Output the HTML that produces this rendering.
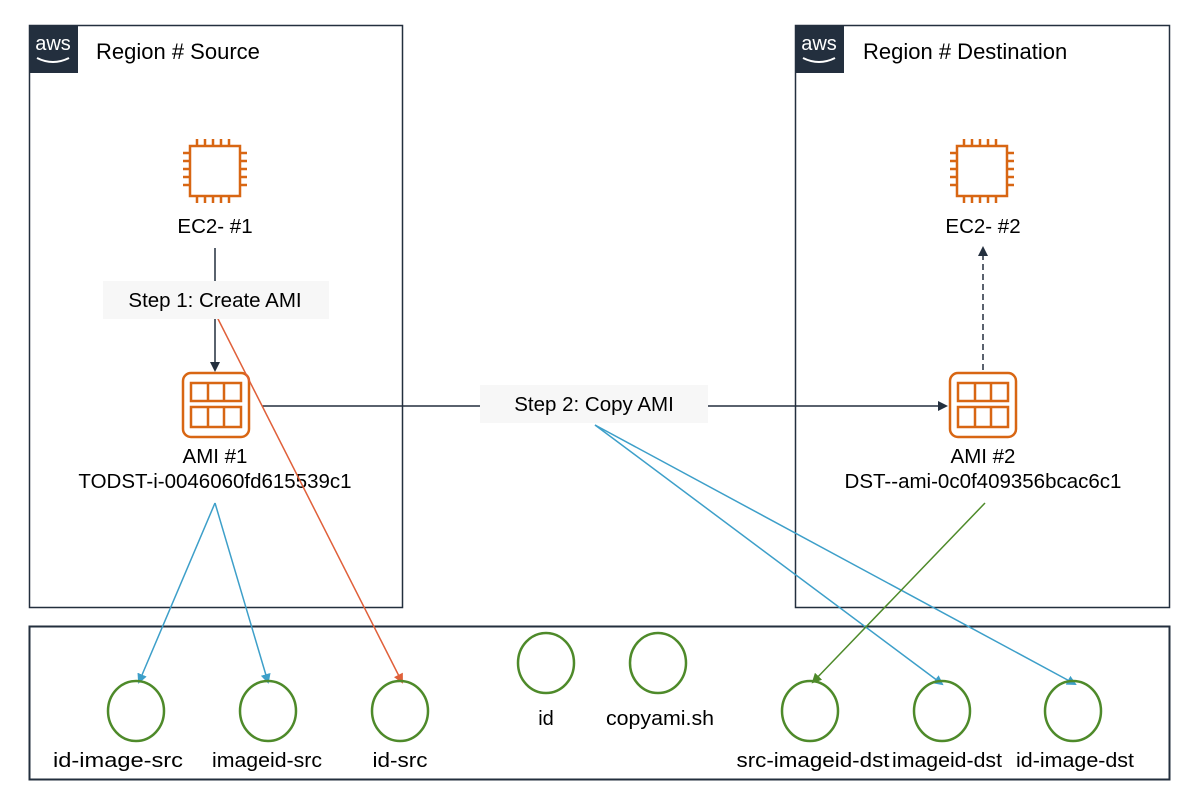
<!DOCTYPE html>
<html><head><style>
body{margin:0;background:#fff;}
svg{display:block;font-family:"Liberation Sans",sans-serif;}
</style></head><body>
<svg width="1202" height="802" viewBox="0 0 1202 802" xmlns="http://www.w3.org/2000/svg">
<defs>
<marker id="ak" markerWidth="10" markerHeight="10" refX="8" refY="5" orient="auto" markerUnits="userSpaceOnUse"><path d="M0,0 L10,5 L0,10 Z" fill="#232f3e"/></marker>
<marker id="ab" markerWidth="10" markerHeight="10" refX="8" refY="5" orient="auto" markerUnits="userSpaceOnUse"><path d="M0,0 L10,5 L0,10 Z" fill="#3d9fc9"/></marker>
<marker id="ao" markerWidth="10" markerHeight="10" refX="8" refY="5" orient="auto" markerUnits="userSpaceOnUse"><path d="M0,0 L10,5 L0,10 Z" fill="#e0603a"/></marker>
<marker id="ag" markerWidth="10" markerHeight="10" refX="8" refY="5" orient="auto" markerUnits="userSpaceOnUse"><path d="M0,0 L10,5 L0,10 Z" fill="#4e8a2a"/></marker>
</defs>
<rect x="29.5" y="25.5" width="373" height="582" fill="none" stroke="#232f3e" stroke-width="1.5"/>
<rect x="795.5" y="25.5" width="374" height="582" fill="none" stroke="#232f3e" stroke-width="1.5"/>
<rect x="29.5" y="626.5" width="1140" height="153" fill="none" stroke="#232f3e" stroke-width="2"/>
<rect x="29" y="25" width="49" height="48" fill="#232f3e"/>
<text x="53" y="50" fill="#fff" font-size="20" text-anchor="middle">aws</text>
<path d="M37,58 Q53,66 69,58" fill="none" stroke="#fff" stroke-width="2"/>
<rect x="795" y="25" width="49" height="48" fill="#232f3e"/>
<text x="819" y="50" fill="#fff" font-size="20" text-anchor="middle">aws</text>
<path d="M803,58 Q819,66 835,58" fill="none" stroke="#fff" stroke-width="2"/>
<text x="96" y="59" font-size="22" fill="#000">Region # Source</text>
<text x="863" y="59" font-size="22" fill="#000">Region # Destination</text>
<g fill="none" stroke="#d86613" stroke-width="2.5">
<rect x="190" y="146" width="50" height="50"/>
<path d="M197,146v-7M205,146v-7M213,146v-7M221,146v-7M229,146v-7M197,196v7M205,196v7M213,196v7M221,196v7M229,196v7M190,153h-7M190,161h-7M190,169h-7M190,177h-7M190,185h-7M240,153h7M240,161h7M240,169h7M240,177h7M240,185h7"/>
<rect x="957" y="146" width="50" height="50"/>
<path d="M964,146v-7M972,146v-7M980,146v-7M988,146v-7M996,146v-7M964,196v7M972,196v7M980,196v7M988,196v7M996,196v7M957,153h-7M957,161h-7M957,169h-7M957,177h-7M957,185h-7M1007,153h7M1007,161h7M1007,169h7M1007,177h7M1007,185h7"/>
<rect x="183" y="373" width="66" height="64" rx="8"/>
<rect x="191" y="383" width="50" height="18"/><rect x="191" y="407" width="50" height="20"/>
<path d="M208,383v18M224,383v18M208,407v20M224,407v20"/>
<rect x="950" y="373" width="66" height="64" rx="8"/>
<rect x="958" y="383" width="50" height="18"/><rect x="958" y="407" width="50" height="20"/>
<path d="M975,383v18M991,383v18M975,407v20M991,407v20"/>
</g>
<g font-size="20.5" fill="#000" text-anchor="middle">
<text x="215" y="233">EC2- #1</text>
<text x="983" y="233">EC2- #2</text>
<text x="215" y="463">AMI #1</text>
<text x="215" y="488">TODST-i-0046060fd615539c1</text>
<text x="983" y="463">AMI #2</text>
<text x="983" y="488">DST--ami-0c0f409356bcac6c1</text>
</g>
<g stroke="#232f3e" stroke-width="1.5" fill="none">
<line x1="215" y1="248" x2="215" y2="281"/>
<line x1="215" y1="319" x2="215" y2="370" marker-end="url(#ak)"/>
<line x1="262" y1="406" x2="480" y2="406"/>
<line x1="708" y1="406" x2="946" y2="406" marker-end="url(#ak)"/>
<line x1="983" y1="370" x2="983" y2="248" stroke-dasharray="6,4" marker-end="url(#ak)"/>
</g>
<g stroke-width="1.5" fill="none">
<line x1="215" y1="313" x2="402" y2="682" stroke="#e0603a" marker-end="url(#ao)"/>
<line x1="215" y1="503" x2="139" y2="682" stroke="#3d9fc9" marker-end="url(#ab)"/>
<line x1="215" y1="503" x2="268" y2="682" stroke="#3d9fc9" marker-end="url(#ab)"/>
<line x1="595" y1="425" x2="942" y2="684" stroke="#3d9fc9" marker-end="url(#ab)"/>
<line x1="595" y1="425" x2="1075" y2="684" stroke="#3d9fc9" marker-end="url(#ab)"/>
<line x1="985" y1="503" x2="813" y2="682" stroke="#4e8a2a" marker-end="url(#ag)"/>
</g>
<rect x="103" y="281" width="226" height="38" fill="#f7f7f7"/>
<text x="215" y="307" font-size="20.5" text-anchor="middle" fill="#000">Step 1: Create AMI</text>
<rect x="480" y="385" width="228" height="38" fill="#f7f7f7"/>
<text x="594" y="411" font-size="20.5" text-anchor="middle" fill="#000">Step 2: Copy AMI</text>
<g fill="none" stroke="#4e8a2a" stroke-width="2.5">
<ellipse cx="136" cy="711" rx="28" ry="30"/>
<ellipse cx="268" cy="711" rx="28" ry="30"/>
<ellipse cx="400" cy="711" rx="28" ry="30"/>
<ellipse cx="546" cy="663" rx="28" ry="30"/>
<ellipse cx="658" cy="663" rx="28" ry="30"/>
<ellipse cx="810" cy="711" rx="28" ry="30"/>
<ellipse cx="942" cy="711" rx="28" ry="30"/>
<ellipse cx="1073" cy="711" rx="28" ry="30"/>
</g>
<g font-size="20" fill="#000" text-anchor="middle">
<text x="118" y="767" textLength="130" lengthAdjust="spacingAndGlyphs">id-image-src</text>
<text x="267" y="767" textLength="110" lengthAdjust="spacingAndGlyphs">imageid-src</text>
<text x="400" y="767" textLength="55" lengthAdjust="spacingAndGlyphs">id-src</text>
<text x="546" y="725">id</text>
<text x="660" y="725" textLength="108" lengthAdjust="spacingAndGlyphs">copyami.sh</text>
<text x="813" y="767" textLength="153" lengthAdjust="spacingAndGlyphs">src-imageid-dst</text>
<text x="947" y="767" textLength="110" lengthAdjust="spacingAndGlyphs">imageid-dst</text>
<text x="1075" y="767" textLength="118" lengthAdjust="spacingAndGlyphs">id-image-dst</text>
</g>
</svg>
</body></html>
